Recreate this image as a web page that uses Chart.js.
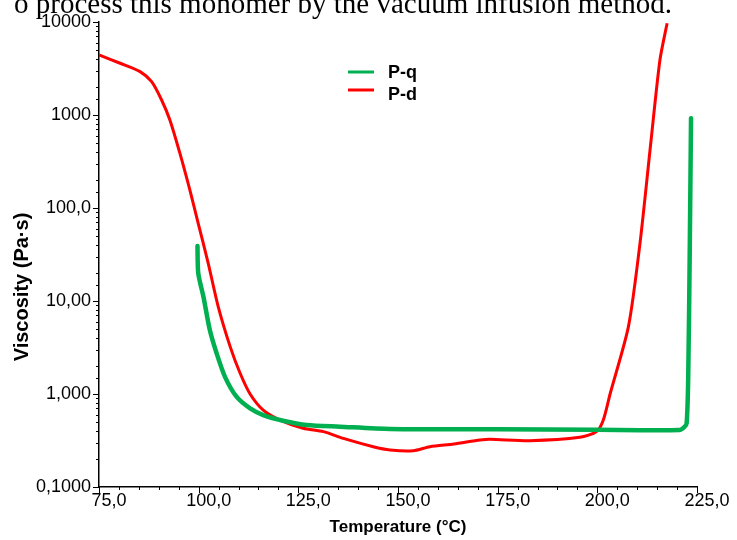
<!DOCTYPE html>
<html lang="en">
<head>
<meta charset="UTF-8">
<title>Viscosity</title>
<script src="https://cdn.jsdelivr.net/npm/chart.js@4.4.1/dist/chart.umd.min.js"></script>
<style>
    html, body { margin: 0; padding: 0; background: #fff; }
    #wrap { position: relative; width: 737px; height: 540px; overflow: hidden; }
    #caption { position: absolute; left: 14px; top: -11px; font-size: 29px; line-height: 29px;
               font-family: "Liberation Serif", "Times New Roman", serif; white-space: nowrap; color: #000; }
    canvas { position: absolute; left: 0; top: 0; }
</style>
</head>
<body>
<div id="wrap">
    <canvas id="viscChart" width="737" height="540"></canvas>
    <div id="caption">o process this monomer by the vacuum infusion method.</div>
</div>
<script>
var seriesNames = ['P-q', 'P-d'];
var seriesColors = ['#00b050', '#ff0000'];

// P-q
var pqTemp = [99.7, 99.9, 101.2, 102.8, 104.5, 106.6, 109.5, 112.9, 116.2, 121.2, 127.1, 135.4, 148.0, 175.0, 200.0, 220.6, 221.8, 222.4, 222.8, 223.2, 223.5];
var pqVisc = [39, 19.9, 11.1, 4.87, 2.74, 1.53, 0.935, 0.70, 0.594, 0.516, 0.464, 0.445, 0.42, 0.418, 0.412, 0.41, 0.44, 0.484, 1.53, 41.7, 923];

// P-d
var pdTemp = [75.0, 80.3, 85.3, 88.2, 90.7, 92.8, 95.3, 97.8, 99.9, 102.4, 104.9, 107.9, 110.4, 112.9, 116.2, 120.4, 126.2, 131.3, 136.3, 143.8, 148.0, 153.8, 158.0, 164.0, 170.6, 173.1, 183.1, 195.6, 199.8, 201.5, 203.2, 207.8, 210.7, 213.4, 215.7, 217.5];
var pdVisc = [4420, 3600, 2930, 2280, 1450, 880, 387, 156, 68, 25.4, 8.7, 3.23, 1.67, 1.0, 0.67, 0.525, 0.428, 0.394, 0.333, 0.271, 0.25, 0.245, 0.271, 0.29, 0.32, 0.326, 0.315, 0.342, 0.394, 0.525, 1.0, 5.3, 41.7, 497, 3900, 9680];

var xTickValues = [75, 100, 125, 150, 175, 200, 225];
var xTickLabels = ['75,0', '100,0', '125,0', '150,0', '175,0', '200,0', '225,0'];
var yTickValues = [0.1, 1, 10, 100, 1000, 10000];
var yTickLabels = ['0,1000', '1,000', '10,00', '100,0', '1000', '10000'];
var yTitle = 'Viscosity (Pa·s)';
var xTitle = 'Temperature (°C)';

var sansFont = '"Liberation Sans", Arial, sans-serif';
var yTitlePos = { x: 22, y: 287 };

function toPoints(xs, ys) {
    var pts = [];
    for (var i = 0; i < xs.length; i++) pts.push({x: xs[i], y: ys[i]});
    return pts;
}

function isDecade(v) {
    var e = Math.log10(v);
    return Math.abs(e - Math.round(e)) < 1e-6;
}

// short outside tick marks, long ones on the labelled values
var tickMarks = {
    id: 'tickMarks',
    afterDraw: function (chart) {
        var ctx = chart.ctx, area = chart.chartArea;
        var xs = chart.scales.x, ys = chart.scales.y;
        ctx.save();
        ctx.strokeStyle = '#000';
        ctx.lineWidth = 1;
        xs.ticks.forEach(function (t) {
            var px = Math.round(xs.getPixelForValue(t.value)) + 0.5;
            var len = xTickValues.indexOf(t.value) >= 0 ? 6 : 3;
            ctx.beginPath();
            ctx.moveTo(px, area.bottom);
            ctx.lineTo(px, area.bottom + len);
            ctx.stroke();
        });
        ys.ticks.forEach(function (t) {
            var py = Math.round(ys.getPixelForValue(t.value)) + 0.5;
            var len = isDecade(t.value) ? 6 : 3;
            ctx.beginPath();
            ctx.moveTo(area.left, py);
            ctx.lineTo(area.left - len, py);
            ctx.stroke();
        });
        // y title sits a bit below the middle of the axis in the original
        ctx.translate(yTitlePos.x, yTitlePos.y);
        ctx.rotate(-Math.PI / 2);
        ctx.font = 'bold 20px ' + sansFont;
        ctx.fillStyle = '#000';
        ctx.textAlign = 'center';
        ctx.textBaseline = 'middle';
        ctx.fillText(yTitle, 0, 0);
        ctx.restore();
    }
};

var lineLegend = {
    id: 'lineLegend',
    afterDraw: function (chart, args, opts) {
        var ctx = chart.ctx;
        ctx.save();
        ctx.font = 'bold 18px ' + sansFont;
        ctx.textBaseline = 'middle';
        ctx.fillStyle = '#000';
        chart.data.datasets.forEach(function (ds, i) {
            var y = opts.y + i * opts.gap;
            ctx.strokeStyle = ds.borderColor;
            ctx.lineWidth = 3;
            ctx.beginPath();
            ctx.moveTo(opts.x, y);
            ctx.lineTo(opts.x + opts.len, y);
            ctx.stroke();
            ctx.fillText(ds.label, opts.x + opts.len + 14, y + 1 + i * 4);
        });
        ctx.restore();
    }
};

var ctx = document.getElementById('viscChart');
var myChart = new Chart(ctx, {
    type: 'line',
    data: {
        datasets: [{
            label: seriesNames[0],
            data: toPoints(pqTemp, pqVisc),
            borderColor: seriesColors[0],
            borderWidth: 4.5,
            tension: 0.25,
            pointRadius: 0,
            borderCapStyle: 'round'
        }, {
            label: seriesNames[1],
            data: toPoints(pdTemp, pdVisc),
            borderColor: seriesColors[1],
            borderWidth: 3,
            tension: 0.25,
            pointRadius: 0
        }]
    },
    options: {
        responsive: false,
        animation: false,
        layout: { padding: { top: 22, right: 40, bottom: 0, left: 0 } },
        plugins: {
            legend: { display: false },
            tooltip: { enabled: false },
            lineLegend: { x: 348, y: 72, gap: 18, len: 26 }
        },
        scales: {
            x: {
                type: 'linear',
                min: 75,
                max: 225,
                grid: { display: false, drawTicks: false },
                border: { display: true, color: '#000', width: 1.5 },
                ticks: {
                    stepSize: 5,
                    autoSkip: false,
                    maxRotation: 0,
                    padding: 3,
                    labelOffset: 10,
                    color: '#000',
                    font: { family: sansFont, size: 18 },
                    callback: function (v) {
                        var i = xTickValues.indexOf(v);
                        return i >= 0 ? xTickLabels[i] : '';
                    }
                },
                title: {
                    display: true,
                    text: xTitle,
                    color: '#000',
                    padding: { top: 0, bottom: 2 },
                    font: { family: sansFont, size: 17, weight: 'bold' }
                },
                afterFit: function (scale) { scale.height = 53; }
            },
            y: {
                type: 'logarithmic',
                min: 0.1,
                max: 10000,
                grid: { display: false, drawTicks: false },
                border: { display: true, color: '#000', width: 1.5 },
                ticks: {
                    autoSkip: false,
                    padding: 8,
                    color: '#000',
                    font: { family: sansFont, size: 18 },
                    callback: function (v) {
                        for (var i = 0; i < yTickValues.length; i++) {
                            if (Math.abs(v - yTickValues[i]) < yTickValues[i] * 1e-6) return yTickLabels[i];
                        }
                        return '';
                    }
                },
                afterFit: function (scale) { scale.width = 99; }
            }
        }
    },
    plugins: [tickMarks, lineLegend]
});
</script>
</body>
</html>
